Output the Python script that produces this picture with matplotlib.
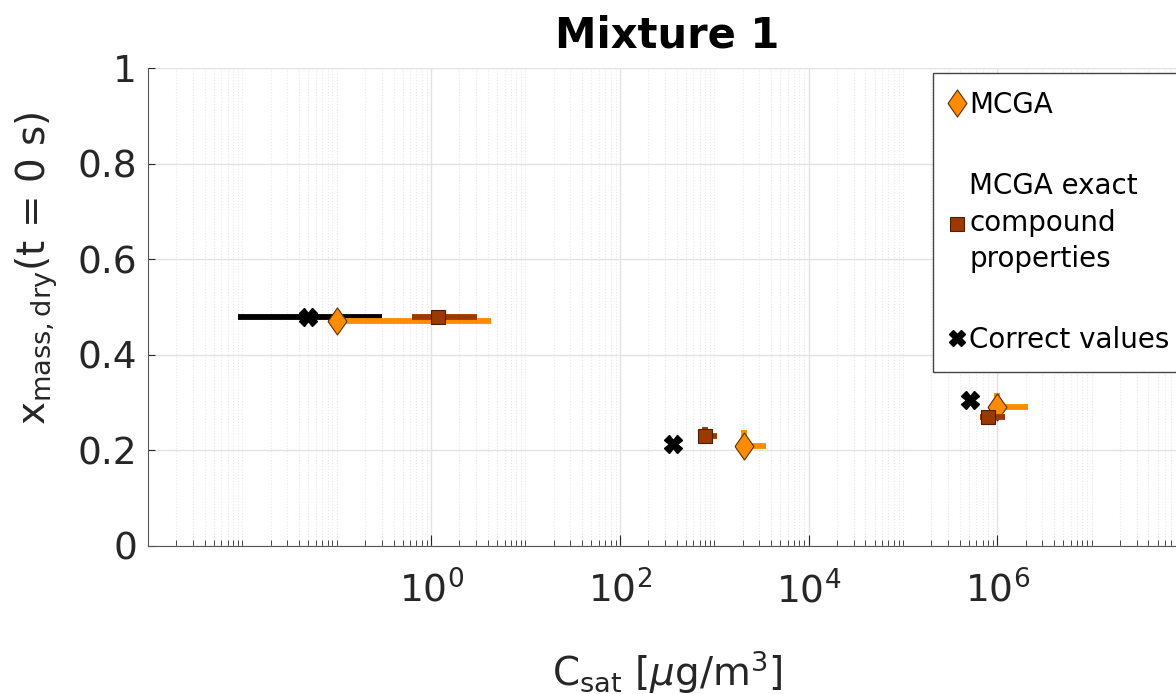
import numpy as np
import matplotlib
matplotlib.use("Agg")
import matplotlib.pyplot as plt
from matplotlib.lines import Line2D
from matplotlib.ticker import LogLocator, NullFormatter, FixedLocator

# data
correct_x = [0.05, 365, 5.1e5]
correct_y = [0.48, 0.213, 0.305]
correct_xlo = [0.0089, 365, 5.1e5]
correct_xhi = [0.30, 365, 5.1e5]

mcga_x = [0.1, 2080, 1.0e6]
mcga_y = [0.47, 0.21, 0.29]
mcga_xlo = [0.1, 2080, 1.0e6]
mcga_xhi = [4.3, 3500, 2.1e6]
mcga_yhi = [0.47, 0.243, 0.32]

exact_x = [1.18, 800, 8.0e5]
exact_y = [0.48, 0.23, 0.27]
exact_xlo = [0.63, 800, 6.6e5]
exact_xhi = [3.1, 1070, 1.2e6]
exact_yhi = [0.48, 0.249, 0.28]

xticks = [1e0, 1e2, 1e4, 1e6]
xticklabels = ['$10^{0}$', '$10^{2}$', '$10^{4}$', '$10^{6}$']
yticks = [0, 0.2, 0.4, 0.6, 0.8, 1]
yticklabels = ['0', '0.2', '0.4', '0.6', '0.8', '1']

orange = '#ff8c00'
brown = '#9a3a00'
diamond = [(-0.7, 0), (0, 1), (0.7, 0), (0, -1), (-0.7, 0)]

def errs(x, lo, hi):
    x = np.array(x); lo = np.array(lo); hi = np.array(hi)
    return [x - lo, hi - x]

fig = plt.figure(figsize=(11.76, 6.94), dpi=100)
ax = fig.add_axes([148/1176, 148/694, 1038/1176, 478/694])

ax.errorbar(correct_x, correct_y, xerr=errs(correct_x, correct_xlo, correct_xhi),
            fmt='X', color='black', ecolor='black', elinewidth=4.2, capsize=0,
            ms=12.5, mec='black', zorder=3)
ax.errorbar(mcga_x, mcga_y, xerr=errs(mcga_x, mcga_xlo, mcga_xhi),
            yerr=errs(mcga_y, mcga_y, mcga_yhi), marker=diamond, ls='none',
            color=orange, ecolor=orange, elinewidth=4.2, capsize=0,
            ms=19.5, mec='#5a3000', mew=0.8, zorder=4)
ax.errorbar(exact_x, exact_y, xerr=errs(exact_x, exact_xlo, exact_xhi),
            yerr=errs(exact_y, exact_y, exact_yhi),
            fmt='s', color=brown, ecolor=brown, elinewidth=4.2, capsize=0,
            ms=10.5, mec='#4a2000', mew=0.8, zorder=5)

ax.set_xscale('log')
ax.set_xlim(1e-3, 1e8)
ax.set_ylim(0, 1)
ax.xaxis.set_major_locator(FixedLocator(xticks))
ax.set_xticklabels(xticklabels)
ax.xaxis.set_minor_locator(LogLocator(base=10, subs=np.arange(1, 10), numticks=100))
ax.xaxis.set_minor_formatter(NullFormatter())
ax.set_yticks(yticks)
ax.set_yticklabels(yticklabels)

ax.grid(True, which='major', color='#e3e3e3', lw=1.0)
ax.grid(True, which='minor', axis='x', color='#e8e8e8', lw=0.8, ls=':')
ax.set_axisbelow(True)
for s in ['top', 'right']:
    ax.spines[s].set_visible(False)
for s in ['left', 'bottom']:
    ax.spines[s].set_color('#555555')
ax.tick_params(axis='both', which='both', direction='in', colors='#262626',
               labelsize=27, length=5)
ax.tick_params(axis='x', which='major', length=8, pad=18)
ax.tick_params(axis='x', which='minor', length=4)
ax.tick_params(axis='y', pad=8)

ax.set_title('Mixture 1', fontsize=30, fontweight='bold', pad=15)
ax.set_xlabel(r'$\mathregular{C_{sat}}$ [$\mu$g/m$^\mathregular{3}$]', fontsize=28,
              color='#262626', labelpad=27)
ax.set_ylabel(r'$\mathregular{x_{mass,dry}}$(t = 0 s)', fontsize=28, color='#262626')
ax.yaxis.set_label_coords(-0.085, 0.58)

handles = [
    Line2D([], [], ls='none', marker=diamond, ms=19.5, color=orange, mec='#5a3000', mew=0.8),
    Line2D([], [], ls='none', marker='s', ms=10.5, color=brown, mec='#4a2000', mew=0.8),
    Line2D([], [], ls='none', marker='X', ms=12, color='black'),
]
labels = ['MCGA', 'MCGA exact\ncompound\nproperties', 'Correct values']
leg = fig.legend(handles, labels, loc='upper left', bbox_to_anchor=(933/1176, 1 - 73/694),
                 borderaxespad=0, fontsize=20, labelspacing=1.9, handlelength=0.45,
                 handletextpad=0.2, borderpad=0.65, fancybox=False, framealpha=1,
                 edgecolor='#444444')
leg.get_frame().set_linewidth(1.0)
for t in leg.get_texts():
    t.set_linespacing(1.4)

fig.savefig('out.png', dpi=100)
